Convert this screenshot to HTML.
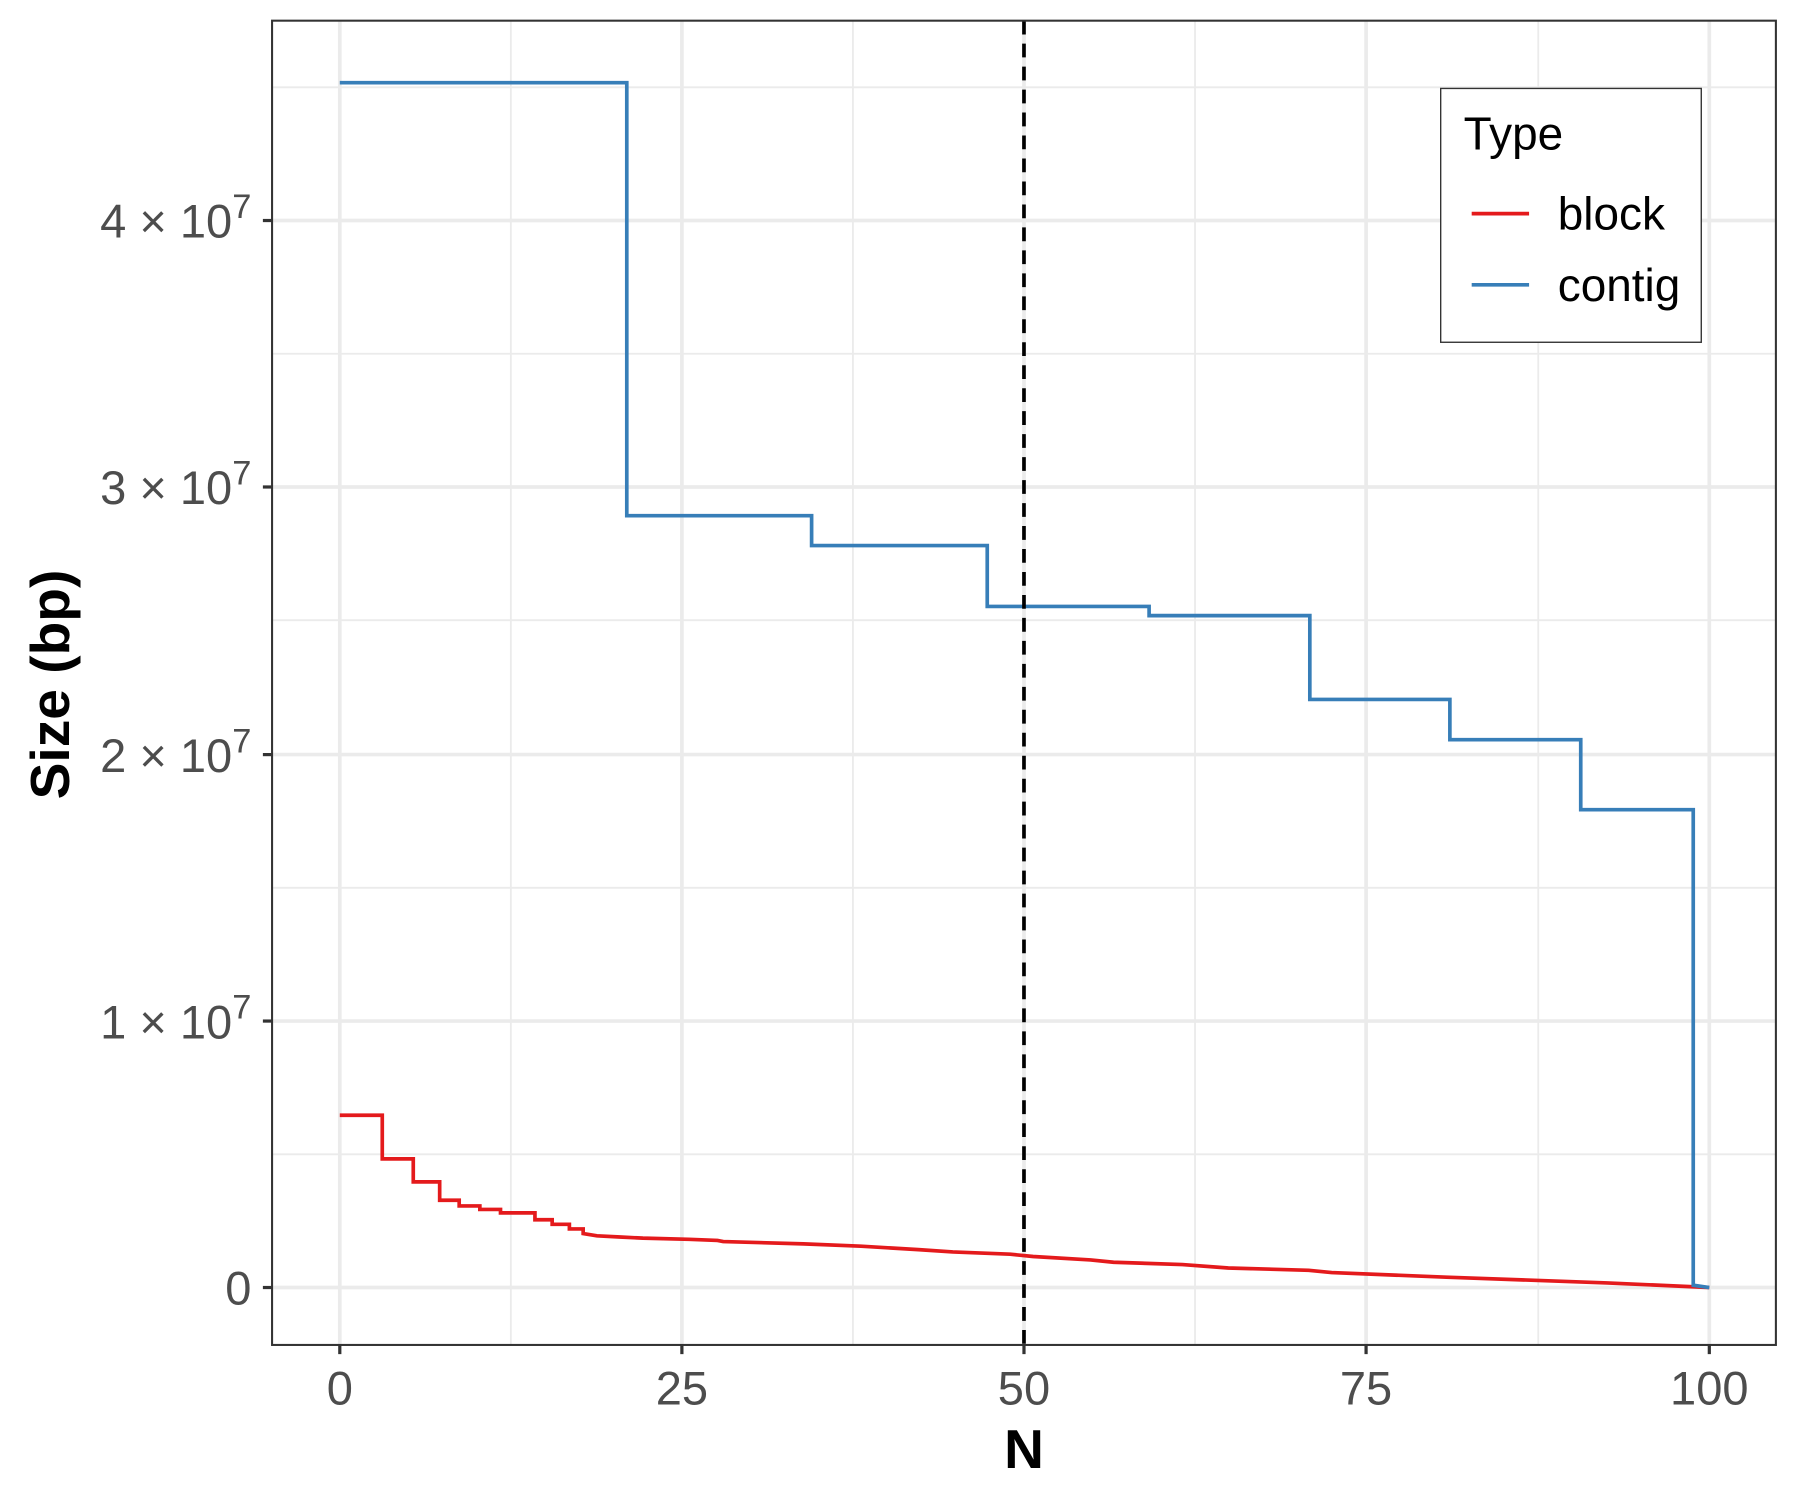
<!DOCTYPE html>
<html><head><meta charset="utf-8"><style>html,body{margin:0;padding:0;background:#fff}svg{display:block}</style></head>
<body>
<svg width="1800" height="1500" viewBox="0 0 1568 1306" preserveAspectRatio="none" xmlns="http://www.w3.org/2000/svg" font-family="Liberation Sans, sans-serif">
<rect width="1568" height="1306" fill="#fff"/>
<g stroke="#ebebeb" stroke-width="1.6">
<line x1="445" y1="18" x2="445" y2="1171"/><line x1="743" y1="18" x2="743" y2="1171"/><line x1="1041" y1="18" x2="1041" y2="1171"/><line x1="1340" y1="18" x2="1340" y2="1171"/>
<line x1="237" y1="1005" x2="1547" y2="1005"/><line x1="237" y1="773" x2="1547" y2="773"/><line x1="237" y1="540" x2="1547" y2="540"/><line x1="237" y1="308" x2="1547" y2="308"/><line x1="237" y1="76" x2="1547" y2="76"/>
</g>
<g stroke="#ebebeb" stroke-width="3.2">
<line x1="296" y1="18" x2="296" y2="1171"/><line x1="594" y1="18" x2="594" y2="1171"/><line x1="892" y1="18" x2="892" y2="1171"/><line x1="1190" y1="18" x2="1190" y2="1171"/><line x1="1489" y1="18" x2="1489" y2="1171"/>
<line x1="237" y1="1121" x2="1547" y2="1121"/><line x1="237" y1="889" x2="1547" y2="889"/><line x1="237" y1="657" x2="1547" y2="657"/><line x1="237" y1="424" x2="1547" y2="424"/><line x1="237" y1="192" x2="1547" y2="192"/>
</g>
<polyline fill="none" stroke="#e41a1c" stroke-width="3.2" points="296,971 333,971 333,1009 360,1009 360,1029 383,1029 383,1045 400,1045 400,1050 418,1050 418,1053 436,1053 436,1056 466,1056 466,1062 481,1062 481,1066 496,1066 496,1070 508,1070 508,1074 520,1076 540,1077 560,1078 600,1079 625,1080 630,1081 700,1083 750,1085 800,1088 830,1090 880,1092 900,1094 950,1097 970,1099 1030,1101 1070,1104 1140,1106 1160,1108 1260,1112 1400,1117 1489,1121"/>
<polyline fill="none" stroke="#377eb8" stroke-width="3.2" points="296,72 546,72 546,449 707,449 707,475 860,475 860,528 1001,528 1001,536 1141,536 1141,609 1263,609 1263,644 1377,644 1377,705 1475,705 1475,1119 1489,1121"/>
<line x1="892" y1="18" x2="892" y2="1171" stroke="#000" stroke-width="3.2" stroke-dasharray="12,8"/>
<rect x="237" y="18" width="1310" height="1153" fill="none" stroke="#333" stroke-width="1.8"/>
<g stroke="#333" stroke-width="2.8">
<line x1="296" y1="1171" x2="296" y2="1179"/><line x1="594" y1="1171" x2="594" y2="1179"/><line x1="892" y1="1171" x2="892" y2="1179"/><line x1="1190" y1="1171" x2="1190" y2="1179"/><line x1="1489" y1="1171" x2="1489" y2="1179"/>
<line x1="229" y1="1121" x2="237" y2="1121"/><line x1="229" y1="889" x2="237" y2="889"/><line x1="229" y1="657" x2="237" y2="657"/><line x1="229" y1="424" x2="237" y2="424"/><line x1="229" y1="192" x2="237" y2="192"/>
</g>
<g fill="#4d4d4d" font-size="41" text-anchor="middle">
<text x="296" y="1223">0</text><text x="594" y="1223">25</text><text x="892" y="1223">50</text><text x="1190" y="1223">75</text><text x="1489" y="1223">100</text>
</g>
<g fill="#4d4d4d" font-size="41" text-anchor="end">
<text x="219" y="1136">0</text>
<text x="219" y="904">1 × 10<tspan dy="-17" font-size="30">7</tspan></text>
<text x="219" y="672">2 × 10<tspan dy="-17" font-size="30">7</tspan></text>
<text x="219" y="439">3 × 10<tspan dy="-17" font-size="30">7</tspan></text>
<text x="219" y="207">4 × 10<tspan dy="-17" font-size="30">7</tspan></text>
</g>
<text x="892" y="1278" font-size="48" font-weight="bold" text-anchor="middle">N</text>
<text transform="translate(60,596) rotate(-90)" font-size="48" font-weight="bold" text-anchor="middle">Size (bp)</text>
<rect x="1255" y="77" width="227" height="221" fill="#fff" stroke="#333" stroke-width="1.2"/>
<text x="1275" y="130" font-size="40">Type</text>
<line x1="1282" y1="186" x2="1332" y2="186" stroke="#e41a1c" stroke-width="3.2"/>
<line x1="1282" y1="248" x2="1332" y2="248" stroke="#377eb8" stroke-width="3.2"/>
<text x="1357" y="200" font-size="40">block</text>
<text x="1357" y="262" font-size="40">contig</text>
</svg>
</body></html>
